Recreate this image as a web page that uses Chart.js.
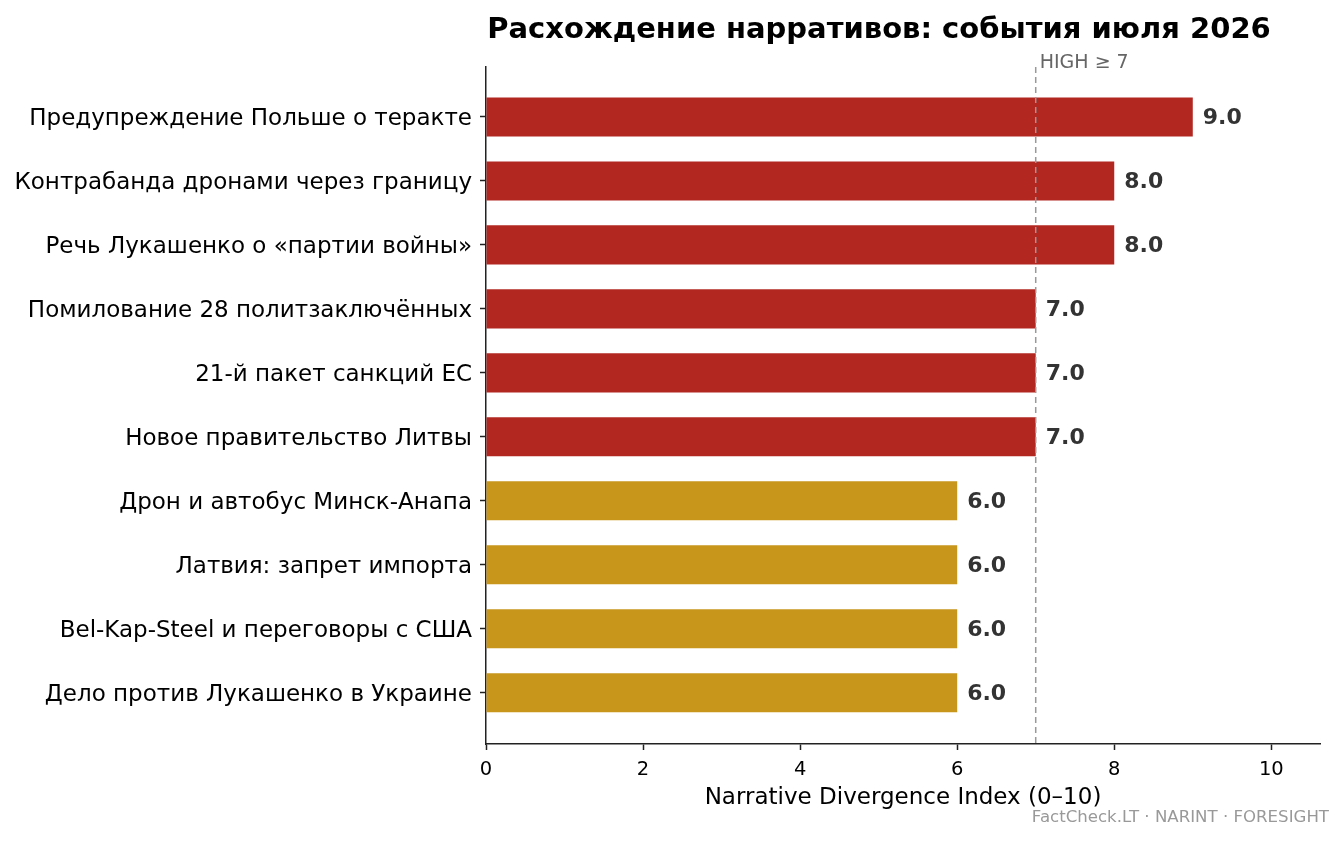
<!DOCTYPE html>
<html>
<head>
<meta charset="utf-8">
<script src="https://cdn.jsdelivr.net/npm/chart.js@4"></script>
<style>
  html, body { margin: 0; padding: 0; background: #fff; }
  canvas { display: block; }
</style>
</head>
<body>
<canvas id="divChart" width="1343" height="843"></canvas>
<script>
// Events and their divergence scores, top to bottom
const events = [
  "Предупреждение Польше о теракте",
  "Контрабанда дронами через границу",
  "Речь Лукашенко о «партии войны»",
  "Помилование 28 политзаключённых",
  "21-й пакет санкций ЕС",
  "Новое правительство Литвы",
  "Дрон и автобус Минск-Анапа",
  "Латвия: запрет импорта",
  "Bel-Kap-Steel и переговоры с США",
  "Дело против Лукашенко в Украине"
];
const scores = [9.0, 8.0, 8.0, 7.0, 7.0, 7.0, 6.0, 6.0, 6.0, 6.0];
const xTicks = [0, 2, 4, 6, 8, 10];
const highThreshold = 7;

const RED = '#b22720';
const GOLD = '#c8961b';
const FONT = "'DejaVu Sans', sans-serif";

// bars at or above the threshold are red
const barColors = scores.map(v => v >= highThreshold ? RED : GOLD);

const overlay = {
  id: 'overlay',
  afterDatasetsDraw(chart) {
    const { ctx, chartArea, scales } = chart;
    const x = scales.x, y = scales.y;
    ctx.save();

    // threshold line
    const tx = x.getPixelForValue(highThreshold);
    ctx.strokeStyle = '#999';
    ctx.lineWidth = 1.5;
    ctx.setLineDash([6, 4]);
    ctx.beginPath();
    ctx.moveTo(tx, chartArea.top);
    ctx.lineTo(tx, chartArea.bottom);
    ctx.stroke();
    ctx.setLineDash([]);

    ctx.fillStyle = '#666';
    ctx.font = `19px ${FONT}`;
    ctx.textAlign = 'left';
    ctx.textBaseline = 'bottom';
    ctx.fillText('HIGH ≥ 7', tx + 4, chartArea.top + 6);

    // value labels
    ctx.fillStyle = '#333';
    ctx.font = `bold 22px ${FONT}`;
    ctx.textBaseline = 'middle';
    scores.forEach((v, i) => {
      ctx.fillText(v.toFixed(1), x.getPixelForValue(v) + 10, y.getPixelForValue(i) + 1);
    });

    // title
    ctx.fillStyle = '#000';
    ctx.font = `bold 29px ${FONT}`;
    ctx.textAlign = 'center';
    ctx.textBaseline = 'middle';
    ctx.fillText('Расхождение нарративов: события июля 2026', chartArea.left + 393, 30);

    // x axis title
    ctx.font = `23px ${FONT}`;
    ctx.fillText('Narrative Divergence Index (0–10)', (chartArea.left + chartArea.right) / 2, 798);

    // footer
    ctx.fillStyle = '#999';
    ctx.font = `16.6px ${FONT}`;
    ctx.textAlign = 'right';
    ctx.fillText('FactCheck.LT · NARINT · FORESIGHT', 1329, 818);
    ctx.restore();
  }
};

window.onload = function () {
  const ctx = document.getElementById('divChart').getContext('2d');
  new Chart(ctx, {
    type: 'bar',
    data: {
      datasets: [{
        data: scores.map((v, i) => ({ x: v, y: i })),
        backgroundColor: barColors,
        categoryPercentage: 1,
        barPercentage: 0.61
      }]
    },
    options: {
      indexAxis: 'y',
      responsive: false,
      animation: false,
      layout: { padding: { top: 67, right: 23, left: 0, bottom: 0 } },
      plugins: { legend: { display: false }, tooltip: { enabled: false }, title: { display: false } },
      scales: {
        x: {
          type: 'linear',
          min: 0,
          max: 10.62,
          afterFit: s => { s.height = 99; },
          afterBuildTicks: s => { s.ticks = xTicks.map(v => ({ value: v })); },
          border: { display: true, color: '#222', width: 1.5 },
          grid: { drawOnChartArea: false, drawTicks: true, tickLength: 6, tickColor: '#222', tickWidth: 1.5 },
          ticks: { color: '#000', font: { family: FONT, size: 19.5 }, padding: 8 }
        },
        y: {
          type: 'linear',
          reverse: true,
          offset: false,
          min: -0.78,
          max: 9.8,
          afterFit: s => { s.width = 486; },
          afterBuildTicks: s => { s.ticks = events.map((e, i) => ({ value: i })); },
          border: { display: true, color: '#222', width: 1.5 },
          grid: { offset: false, drawOnChartArea: false, drawTicks: true, tickLength: 6, tickColor: '#222', tickWidth: 1.5 },
          ticks: {
            color: '#000',
            font: { family: FONT, size: 23 },
            padding: 8,
            labelOffset: 2,
            autoSkip: false,
            callback: v => events[v] ?? ''
          }
        }
      }
    },
    plugins: [overlay]
  });
};
</script>
</body>
</html>
